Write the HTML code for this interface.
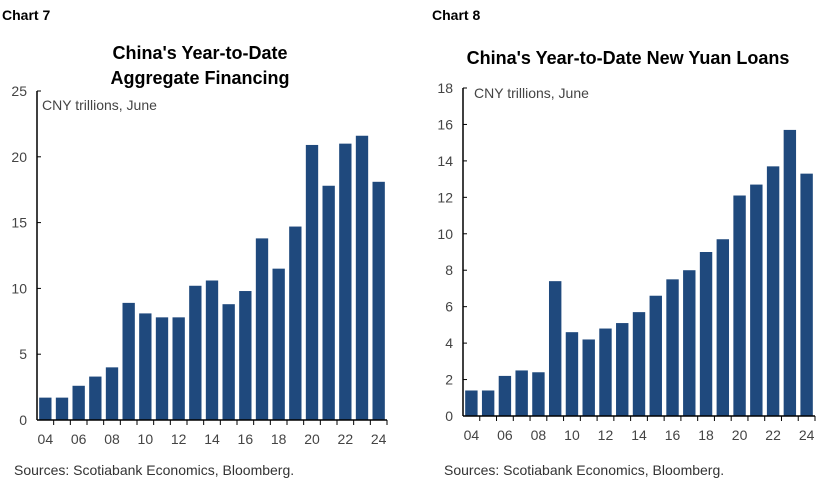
<!DOCTYPE html>
<html><head><meta charset="utf-8"><style>
body{margin:0;background:#fff;width:828px;height:483px;overflow:hidden;font-family:"Liberation Sans",sans-serif}
svg text{font-family:"Liberation Sans",sans-serif}
</style></head><body>
<svg id="s" width="828" height="483" xmlns="http://www.w3.org/2000/svg">
<text x="2" y="20" font-size="14" font-weight="bold">Chart 7</text>
<text x="432" y="20" font-size="14" font-weight="bold">Chart 8</text>
<text x="200" y="59" font-size="18" font-weight="bold" text-anchor="middle">China's Year-to-Date</text>
<text x="200" y="84" font-size="18" font-weight="bold" text-anchor="middle">Aggregate Financing</text>
<text x="628" y="64" font-size="18" font-weight="bold" text-anchor="middle">China's Year-to-Date New Yuan Loans</text>
<text x="42" y="110" font-size="14" fill="#444">CNY trillions, June</text>
<text x="474" y="98" font-size="14" fill="#444">CNY trillions, June</text>
<text x="14" y="475" font-size="14" fill="#333">Sources: Scotiabank Economics, Bloomberg.</text>
<text x="444" y="475" font-size="14" fill="#333">Sources: Scotiabank Economics, Bloomberg.</text>
<g id="c1"></g><g id="c2"></g>
</svg>
<script>
const years=["04","05","06","07","08","09","10","11","12","13","14","15","16","17","18","19","20","21","22","23","24"];
const financing=[1.7,1.7,2.6,3.3,4.0,8.9,8.1,7.8,7.8,10.2,10.6,8.8,9.8,13.8,11.5,14.7,20.9,17.8,21.0,21.6,18.1];
const loans=[1.4,1.4,2.2,2.5,2.4,7.4,4.6,4.2,4.8,5.1,5.7,6.6,7.5,8.0,9.0,9.7,12.1,12.7,13.7,15.7,13.3];
const ticks1=[0,5,10,15,20,25];
const ticks2=[0,2,4,6,8,10,12,14,16,18];
const NS="http://www.w3.org/2000/svg";
function mk(g,t,a){const e=document.createElementNS(NS,t);for(const k in a)e.setAttribute(k,a[k]);g.appendChild(e);return e;}
function draw(gid,vals,ticks,x0,x1,y0,y1,max,pre){
  const g=document.getElementById(gid);
  const ys=v=>y0-(v/max)*(y0-y1);
  const slot=(x1-x0)/years.length;
  ticks.forEach(t=>{
    const tl=mk(g,"text",{x:x0-10,y:ys(t)+5,"font-size":14,"text-anchor":"end",fill:"#444"});
    tl.textContent=t;
    
    
    const tk=mk(g,"line",{x1:x0,x2:x0+4,y1:ys(t),y2:ys(t),stroke:"#000","stroke-width":1});
    
    
  });
  vals.forEach((v,i)=>{
    const bw=slot*0.74;
    const r=mk(g,"rect",{x:x0+i*slot+(slot-bw)/2,y:ys(v),width:bw,height:y0-ys(v),fill:"#1f497d"});
    
    
    const tk=mk(g,"line",{x1:x0+(i+1)*slot,x2:x0+(i+1)*slot,y1:y0,y2:y0+5,stroke:"#000"});
    
    
    if(i%2==0){
      const t=mk(g,"text",{x:x0+i*slot+slot/2,y:y0+24,"font-size":14,"text-anchor":"middle",fill:"#444"});
      t.textContent=years[i];
      
      
    }
  });
  const ya=mk(g,"line",{x1:x0,x2:x0,y1:y1,y2:y0,stroke:"#000","stroke-width":1.5});
  
  
  const xa=mk(g,"line",{x1:x0,x2:x1,y1:y0,y2:y0,stroke:"#000","stroke-width":1.5});
  
  
}
draw("c1",financing,ticks1,37,387,420,91,25,"chart7");
draw("c2",loans,ticks2,463,815,416,88,18,"chart8");
</script>
</body></html>
